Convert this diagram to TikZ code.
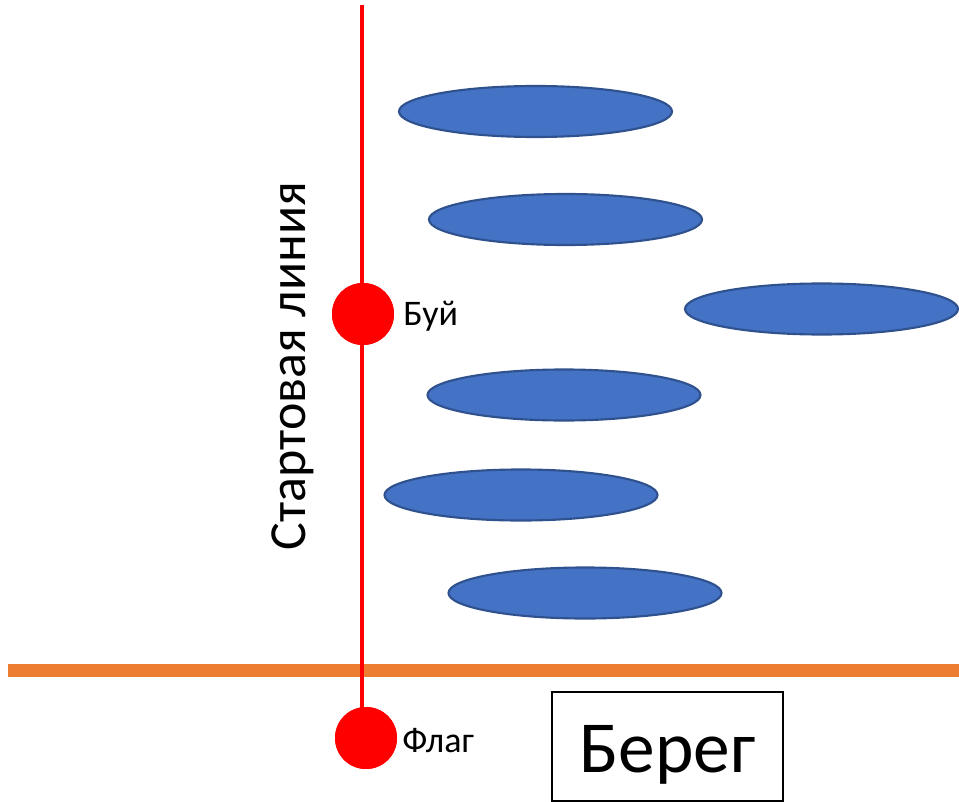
\documentclass[tikz,border=0pt]{standalone}
\usepackage{fontspec}
\setmainfont{Carlito}
\usetikzlibrary{shapes.geometric}
\definecolor{boatblue}{HTML}{4472C4}
\definecolor{boatedge}{HTML}{2F528F}
\definecolor{shoreorange}{HTML}{ED7D31}
\definecolor{markred}{HTML}{FF0000}
\begin{document}
\begin{tikzpicture}[x=0.75pt,y=-0.75pt,
  boat/.style={ellipse, fill=boatblue, draw=boatedge, line width=1.6pt,
    minimum width=204.75pt, minimum height=38.25pt, inner sep=0pt},
  markdot/.style={circle, fill=markred, minimum size=46.5pt, inner sep=0pt},
  marklabel/.style={anchor=west, font=\fontsize{27}{32}\selectfont, inner sep=0pt},
  shorebox/.style={draw=black, line width=1.1pt, minimum width=173.25pt,
    minimum height=81.75pt, inner sep=0pt, font=\fontsize{55}{64}\selectfont}]
\useasboundingbox (0,0) rectangle (959,802);
% shore line
\coordinate (shoreL) at (8,670);
\coordinate (shoreR) at (959,670);
\draw[shoreorange, line width=9.75pt] (shoreL) -- (shoreR);
% start line
\coordinate (top) at (362,5);
\coordinate (bend) at (362,738);
\node[markdot] (buoy) at (363,314) {};
\node[markdot] (flag) at (366,738) {};
\draw[markred, line width=3pt] (top) -- (bend) -- (flag.center);
\node[markdot] at (buoy) {};
\node[markdot] at (flag) {};
\node[marklabel] (buoylabel) at (403,316) {Буй};
\node[marklabel] (flaglabel) at (402,741) {Флаг};
\node[rotate=90, anchor=base, inner sep=0pt, font=\fontsize{39}{46}\selectfont] (startlabel) at (305,366) {Стартовая линия};
% boats
\node[boat] (b1) at (535.5,111.5) {};
\node[boat] (b2) at (565.5,219.5) {};
\node[boat] (b3) at (821.5,309) {};
\node[boat] (b4) at (564,395) {};
\node[boat] (b5) at (521,495) {};
\node[boat] (b6) at (585,593) {};
% shore box
\node[shorebox] (shore) at (667.5,746.5) {\raisebox{-6pt}[\height][\depth]{Берег}};
\end{tikzpicture}
\end{document}
